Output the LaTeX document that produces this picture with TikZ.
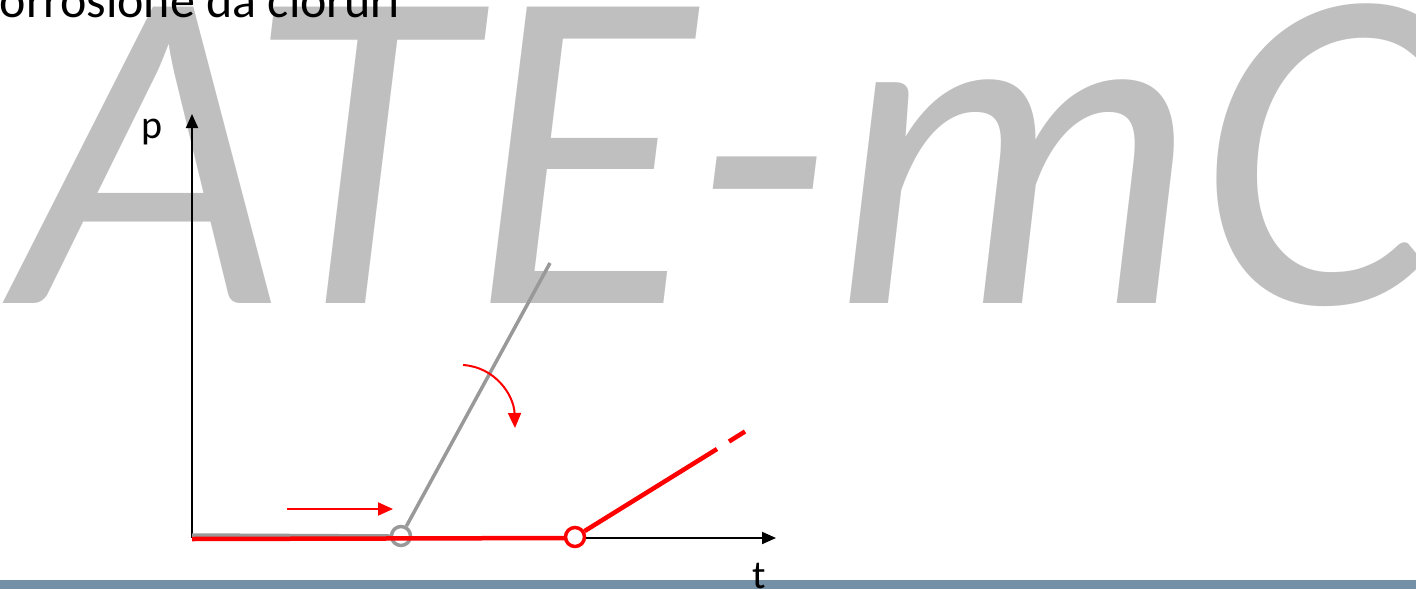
\documentclass[tikz,border=0pt]{standalone}
\usepackage{fontspec}
\setmainfont{Carlito}
\usetikzlibrary{arrows.meta}
\definecolor{wmgray}{RGB}{191,191,191}
\definecolor{lngray}{RGB}{153,153,153}
\definecolor{barblue}{RGB}{116,144,166}
\definecolor{myred}{RGB}{255,0,0}
\tikzset{
  axis/.style={line width=2pt, draw=black, -{Triangle[length=14pt,width=12pt]}},
  grayline/.style={line width=3.5pt, draw=lngray},
  redline/.style={line width=4.5pt, draw=myred},
  redarrow/.style={line width=2pt, draw=myred, -{Triangle[length=15pt,width=13pt]}},
  ring/.style={circle, line width=3.5pt, minimum size=19pt, inner sep=0pt, fill=white},
  lbl/.style={inner sep=0pt, font=\fontsize{40}{40}\selectfont}
}
\begin{document}
\begin{tikzpicture}[x=1pt,y=-1pt]
\useasboundingbox (0,0) rectangle (1416,589);
\clip (0,0) rectangle (1416,589);
% watermark
\node[anchor=base west, inner sep=0pt, text=wmgray, font=\fontsize{462}{462}\selectfont\itshape] (wm) at (16,303) {ATE-mC};
% title
\node[anchor=base west, inner sep=0pt, font=\fontsize{50}{50}\selectfont] (title) at (-27,17) {Corrosione da cloruri};
% bottom bar
\fill[barblue] (0,580) rectangle (1416,589);
% axes
\coordinate (O) at (192,538);
\coordinate (ytip) at (192,114);
\coordinate (xtip) at (776,538);
\draw[axis] (O) -- (ytip);
\draw[axis] (O) -- (xtip);
\node[lbl, anchor=base west] (p) at (141,138) {p};
\node[lbl, anchor=base west] (t) at (752,588) {t};
% gray (initial) curve
\node[ring, draw=lngray, fill=none] (g) at (401,536) {};
\coordinate (gs) at (192,535);
\coordinate (ge) at (550,263);
\draw[grayline] (gs) -- (g.west);
\draw[grayline] (g) -- (ge);
% red curve
\coordinate (rs) at (192,539);
\draw[redline] (rs) -- (575,538);
\node[ring, draw=myred] (r) at (575,537) {};
\coordinate (r1) at (717,449);
\coordinate (r2) at (729,441.5);
\coordinate (r3) at (745,431.5);
\draw[redline] (r) -- (r1);
\draw[redline] (r2) -- (r3);
% arrows
\coordinate (a1) at (287,509);
\coordinate (a2) at (393,509);
\draw[redarrow] (a1) -- (a2);
\coordinate (c1) at (463,365);
\coordinate (c2) at (515,428);
\draw[redarrow] (c1) .. controls (495,367) and (514,395) .. (c2);
\end{tikzpicture}
\end{document}
